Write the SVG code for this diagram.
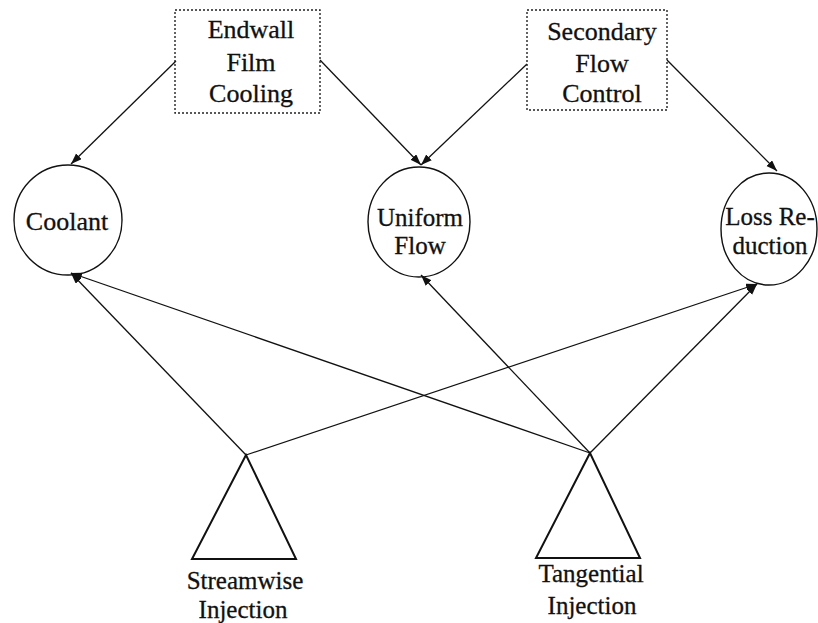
<svg xmlns="http://www.w3.org/2000/svg" width="818" height="623" viewBox="0 0 818 623">
<style>
.t{font-family:'Liberation Serif',serif;font-size:26px;fill:#111;stroke:#111;stroke-width:0.3;text-anchor:middle}
.s{font-size:25px}
.box{fill:none;stroke:#222;stroke-width:1.4;stroke-dasharray:2 2}
.node{fill:none;stroke:#111;stroke-width:1.4}
.tri{fill:none;stroke:#111;stroke-width:2}
.edge{fill:none;stroke:#111;stroke-width:1.3;marker-end:url(#ah)}
</style>
<defs>
<marker id="ah" markerUnits="userSpaceOnUse" markerWidth="12" markerHeight="10" refX="11" refY="4" orient="auto">
<path d="M0,0 L11,4 L0,8 z" fill="#111"/>
</marker>
</defs>
<g id="connectors">
<line class="edge" x1="176" y1="61" x2="71" y2="164"/>
<line class="edge" x1="320" y1="60" x2="421" y2="165"/>
<line class="edge" x1="527" y1="64" x2="421" y2="165"/>
<line class="edge" x1="667" y1="60" x2="777" y2="171"/>
<line class="edge" x1="246" y1="455" x2="71" y2="273"/>
<line class="edge" x1="590" y1="453" x2="71" y2="273"/>
<line class="edge" x1="246" y1="455" x2="757" y2="284"/>
<line class="edge" x1="590" y1="453" x2="421" y2="275"/>
<line class="edge" x1="590" y1="453" x2="757" y2="284"/>
</g>
<g id="endwall">
<rect class="box" x="175" y="10" width="145" height="103"/>
<text class="t" x="251" y="38">Endwall</text>
<text class="t" x="251" y="71">Film</text>
<text class="t" x="251" y="102">Cooling</text>
</g>
<g id="secondary">
<rect class="box" x="527" y="10" width="140" height="100"/>
<text class="t" x="602" y="40">Secondary</text>
<text class="t" x="602" y="72">Flow</text>
<text class="t" x="602" y="102">Control</text>
</g>
<g id="coolant">
<ellipse class="node" cx="68" cy="220" rx="54" ry="55"/>
<text class="t" x="67" y="230">Coolant</text>
</g>
<g id="uniform">
<ellipse class="node" cx="419" cy="222" rx="51" ry="55"/>
<text class="t s" x="420" y="226">Uniform</text>
<text class="t s" x="420" y="254">Flow</text>
</g>
<g id="loss">
<ellipse class="node" cx="769" cy="229" rx="48" ry="56"/>
<text class="t s" x="770" y="225">Loss Re-</text>
<text class="t s" x="770" y="254">duction</text>
</g>
<g id="streamwise">
<polygon class="tri" points="246,455 192,559 296,559"/>
<text class="t s" x="245" y="589">Streamwise</text>
<text class="t s" x="243" y="618">Injection</text>
</g>
<g id="tangential">
<polygon class="tri" points="590,453 536,558 640,558"/>
<text class="t s" x="591" y="582">Tangential</text>
<text class="t s" x="592" y="614">Injection</text>
</g>
</svg>
